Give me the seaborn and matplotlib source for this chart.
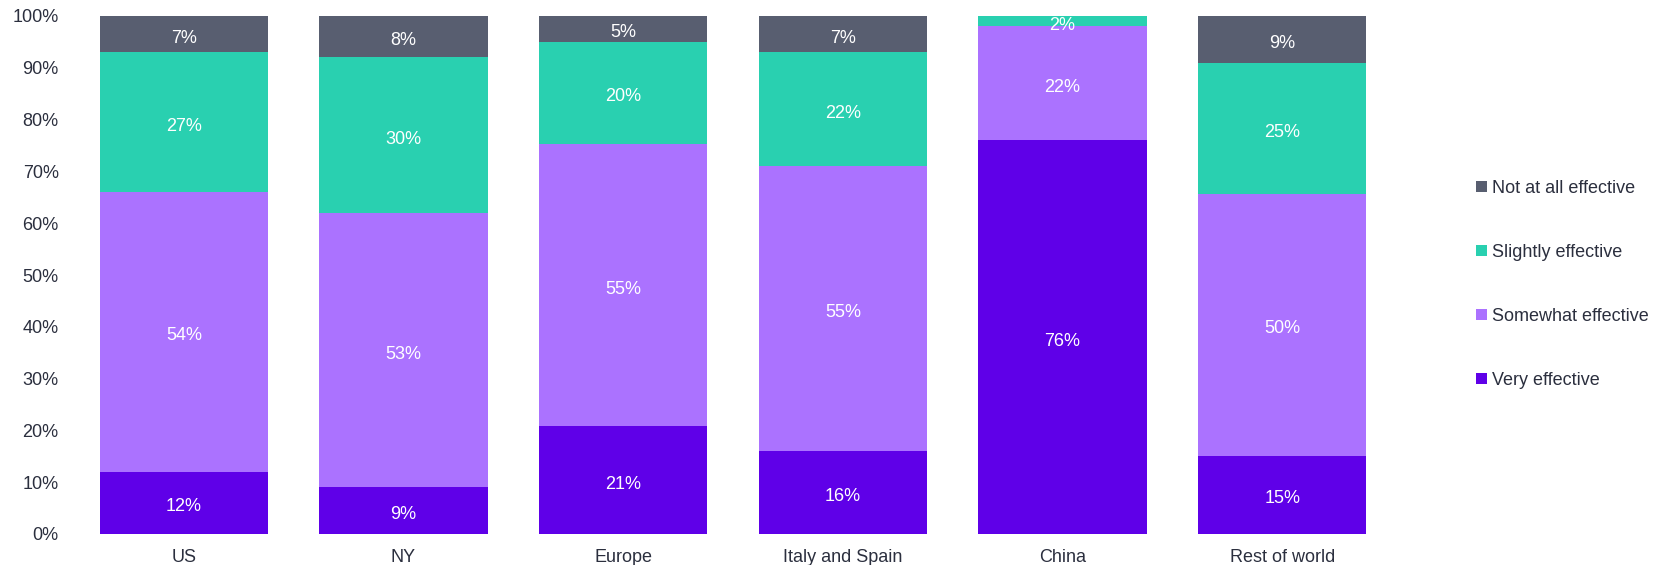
import numpy as np
import pandas as pd
import matplotlib
matplotlib.use("Agg")
import matplotlib.pyplot as plt
import matplotlib.transforms as mtransforms
from matplotlib.patches import Patch
import seaborn as sns

regions = ["US", "NY", "Europe", "Italy and Spain", "China", "Rest of world"]
very_effective = [12, 9, 21, 16, 76, 15]
somewhat_effective = [54, 53, 55, 55, 22, 50]
slightly_effective = [27, 30, 20, 22, 2, 25]
not_at_all_effective = [7, 8, 5, 7, 0, 9]

series_names = ["Very effective", "Somewhat effective", "Slightly effective", "Not at all effective"]
series_values = [very_effective, somewhat_effective, slightly_effective, not_at_all_effective]
series_colors = ["#5f00e8", "#ab72ff", "#29d0b0", "#585e70"]
text_color = "#2b2f3e"
font_size = 13

sns.set_theme(style="white")
plt.rcParams["font.family"] = ["Liberation Sans", "DejaVu Sans"]

values = np.array(series_values, dtype=float)
shares = values / values.sum(axis=0)          # 100% stacked
tops = np.cumsum(shares, axis=0)
bottoms = tops - shares

fig = plt.figure(figsize=(16.55, 5.65), dpi=100)
ax = fig.add_axes([74 / 1655, 1 - 534 / 565, (1392 - 74) / 1655, (534 - 16) / 565])

# Draw cumulative heights from the top layer down so each layer covers the next
for i in reversed(range(len(series_names))):
    df = pd.DataFrame({"region": regions, "top": tops[i]})
    sns.barplot(data=df, x="region", y="top", color=series_colors[i], width=0.765,
                saturation=1, ax=ax, order=regions, linewidth=0)

label_shift = mtransforms.offset_copy(ax.transData, fig=fig, x=0, y=-4, units="dots")
for i in range(len(series_names)):
    for j in range(len(regions)):
        if values[i, j] <= 0:
            continue
        ax.text(j, (bottoms[i, j] + tops[i, j]) / 2, f"{int(values[i, j])}%",
                ha="center", va="center", color="white", fontsize=font_size,
                transform=label_shift)

ax.set_ylim(0, 1)
ax.set_xlim(-0.5, len(regions) - 0.5)
ax.set_yticks(np.arange(0, 1.01, 0.1))
ax.set_yticklabels([f"{int(round(t * 100))}%" for t in np.arange(0, 1.01, 0.1)])
ax.set_xlabel("")
ax.set_ylabel("")
ax.tick_params(axis="both", length=0, labelsize=font_size, labelcolor=text_color)
ax.tick_params(axis="y", pad=11)
ax.tick_params(axis="x", pad=11)
for s in ax.spines.values():
    s.set_visible(False)

handles = [Patch(facecolor=series_colors[i], edgecolor="none", label=series_names[i])
           for i in reversed(range(len(series_names)))]
fig.legend(handles=handles, loc="upper left", bbox_to_anchor=(1476 / 1655, 1 - 180 / 565),
           frameon=False, fontsize=font_size, handlelength=0.62, handleheight=0.62,
           handletextpad=0.25, labelspacing=2.6, labelcolor=text_color, borderaxespad=0,
           borderpad=0)

fig.savefig("out.png", dpi=100)
